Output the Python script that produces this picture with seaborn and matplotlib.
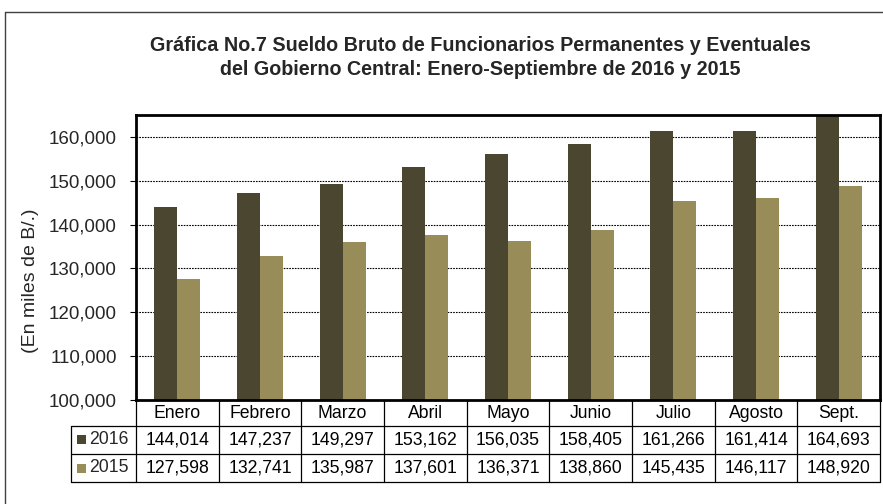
import matplotlib
matplotlib.use("Agg")
import matplotlib.pyplot as plt
import matplotlib.transforms as mtransforms
import seaborn as sns
import pandas as pd
from matplotlib.lines import Line2D
from matplotlib.patches import Rectangle

months = ["Enero", "Febrero", "Marzo", "Abril", "Mayo", "Junio", "Julio", "Agosto", "Sept."]
series_names = ["2016", "2015"]
values_2016 = [144014, 147237, 149297, 153162, 156035, 158405, 161266, 161414, 164693]
values_2015 = [127598, 132741, 135987, 137601, 136371, 138860, 145435, 146117, 148920]
yticks = [100000, 110000, 120000, 130000, 140000, 150000, 160000]
colors = ["#4b4630", "#988d59"]

title = "Gráfica No.7 Sueldo Bruto de Funcionarios Permanentes y Eventuales\ndel Gobierno Central: Enero-Septiembre de 2016 y 2015"
ylabel = "(En miles de B/.)"

df = pd.DataFrame({
    "Mes": months * 2,
    "Año": [series_names[0]] * len(months) + [series_names[1]] * len(months),
    "Valor": values_2016 + values_2015,
})

sns.set_theme(style="white")
plt.rcParams["font.family"] = ["Liberation Sans", "DejaVu Sans"]

W, H = 883, 504
fig = plt.figure(figsize=(W / 100, H / 100), dpi=100)
fig.patch.set_facecolor("white")

left, right, top, bottom = 136, 880, 115, 400
ax = fig.add_axes([left / W, 1 - bottom / H, (right - left) / W, (bottom - top) / H])

sns.barplot(data=df, x="Mes", y="Valor", hue="Año", hue_order=series_names,
            palette=colors, width=0.56, ax=ax, legend=False, saturation=1,
            linewidth=0, order=months)

ax.set_ylim(100000, 165000)
ax.set_xlim(-0.5, len(months) - 0.5)
ax.set_yticks(yticks)
ax.set_yticklabels([f"{v:,}" for v in yticks], fontsize=13.5)
ax.tick_params(axis="y", length=4.3, width=0.8, color="black", left=True, pad=9.5)
ax.set_xticks([])
ax.set_xlabel("")
ax.set_ylabel(ylabel, fontsize=14)
ax.yaxis.set_label_coords((39 - left) / (right - left), 0.42)
for v in yticks[1:]:
    ax.axhline(v, color="black", linestyle=(0, (1.5, 1)), linewidth=0.8, zorder=0)
for s in ax.spines.values():
    s.set_visible(True)
    s.set_color("black")
    s.set_linewidth(2)

fig.text(480 / W, 1 - 57.5 / H, title, ha="center", va="center",
         fontsize=14.2, fontweight="bold", linespacing=1.3)

# data table
trans = mtransforms.blended_transform_factory(ax.transData, ax.transAxes)
ph = bottom - top
row_h = [26 / ph, 28 / ph, 28 / ph]
y0 = 0
y1 = -row_h[0]
y2 = y1 - row_h[1]
y3 = y2 - row_h[2]
xl = -0.5 - 65 / ((right - left) / len(months))
xr = len(months) - 0.5
lkw = dict(color="black", linewidth=0.9, transform=trans, clip_on=False)
ax.add_line(Line2D([xl, xr], [y1, y1], **lkw))
ax.add_line(Line2D([xl, xr], [y2, y2], **lkw))
ax.add_line(Line2D([xl, xr], [y3, y3], **lkw))
ax.add_line(Line2D([xl, xl], [y1, y3], **lkw))
for i in range(len(months) + 1):
    ax.add_line(Line2D([i - 0.5, i - 0.5], [y0, y3], **lkw))

tkw = dict(transform=trans, ha="center", va="center", fontsize=12.7, color="black", clip_on=False)
for i, m in enumerate(months):
    ax.text(i, (y0 + y1) / 2, m, **tkw)
    ax.text(i, (y1 + y2) / 2, f"{values_2016[i]:,}", **tkw)
    ax.text(i, (y2 + y3) / 2, f"{values_2015[i]:,}", **tkw)

cw = (right - left) / len(months)
for name, col, yc in [(series_names[0], colors[0], (y1 + y2) / 2), (series_names[1], colors[1], (y2 + y3) / 2)]:
    sh = 9 / ph
    ax.add_patch(Rectangle((xl + 6 / cw, yc - sh / 2), 9 / cw, sh, facecolor=col, edgecolor="none",
                           transform=trans, clip_on=False))
    ax.text(xl + 18 / cw, yc, name, transform=trans, ha="left", va="center", fontsize=12.7, clip_on=False)

# outer frame (partially visible)
fig.add_artist(Line2D([5 / W, 1], [1 - 12 / H, 1 - 12 / H], color="#404040", linewidth=1, transform=fig.transFigure))
fig.add_artist(Line2D([5 / W, 5 / W], [0, 1 - 12 / H], color="#404040", linewidth=1, transform=fig.transFigure))

fig.savefig("out.png", dpi=100)
